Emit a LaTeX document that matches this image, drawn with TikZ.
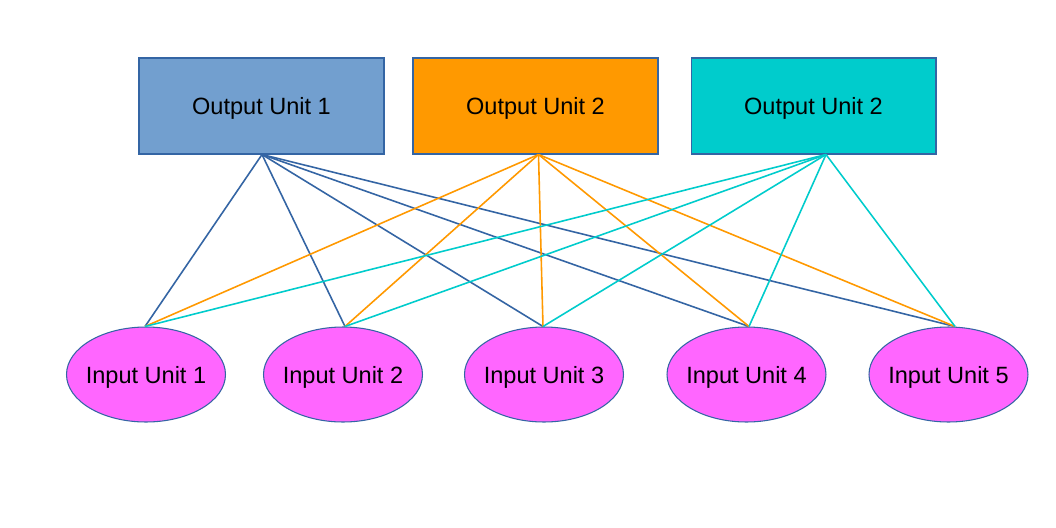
\documentclass[tikz,border=0pt]{standalone}
\usepackage{fontspec}
\setmainfont{Liberation Sans}
\usetikzlibrary{shapes.geometric,calc}
\definecolor{bord}{HTML}{3465A4}
\definecolor{cblue}{HTML}{729FCF}
\definecolor{corange}{HTML}{FF9900}
\definecolor{ccyan}{HTML}{00CCCC}
\definecolor{cmag}{HTML}{FF66FF}
\begin{document}
\begin{tikzpicture}[x=0.02cm,y=-0.02cm,
  outbox/.style={draw=bord,line width=0.6pt,minimum width=4.9cm,minimum height=1.92cm,inner sep=0pt,text depth=0pt,font=\fontsize{13.4}{16}\selectfont},
  inell/.style={ellipse,draw=bord,line width=0.6pt,fill=cmag,minimum width=3.18cm,minimum height=1.9cm,inner xsep=-0.6cm,inner ysep=0pt,text depth=0pt,font=\fontsize{13.4}{16}\selectfont},
  wire/.style={line width=0.9pt}]
\useasboundingbox (0,0) rectangle (1056,528);
\fill[white] (0,0) rectangle (1056,528);
\node[outbox,fill=cblue] (o1) at (261.5,106) {Output Unit 1};
\node[outbox,fill=corange] (o2) at (535.5,106) {Output Unit 2};
\node[outbox,fill=ccyan] (o3) at (813.5,106) {Output Unit 2};
\node[inell] (i1) at (146,374.5) {Input Unit 1};
\node[inell] (i2) at (343,374.5) {Input Unit 2};
\node[inell] (i3) at (544,374.5) {Input Unit 3};
\node[inell] (i4) at (746.5,374.5) {Input Unit 4};
\node[inell] (i5) at (948.5,374.5) {Input Unit 5};
\coordinate (s1) at ($(o1.south)+(0.5,0)$);
\coordinate (s2) at ($(o2.south)+(3,0)$);
\coordinate (s3) at ($(o3.south)+(12.5,0)$);
\coordinate (e1) at ($(i1.north)+(-1,0)$);
\coordinate (e2) at ($(i2.north)+(2,0)$);
\coordinate (e3) at ($(i3.north)+(-1,0)$);
\coordinate (e4) at ($(i4.north)+(2.5,0)$);
\coordinate (e5) at ($(i5.north)+(6.5,0)$);
\foreach \e in {e1,e2,e3,e4,e5} \draw[wire,bord] (s1) -- (\e);
\foreach \e in {e1,e2,e3,e4,e5} \draw[wire,corange] (s2) -- (\e);
\foreach \e in {e1,e2,e3,e4,e5} \draw[wire,ccyan] (s3) -- (\e);
\end{tikzpicture}
\end{document}
